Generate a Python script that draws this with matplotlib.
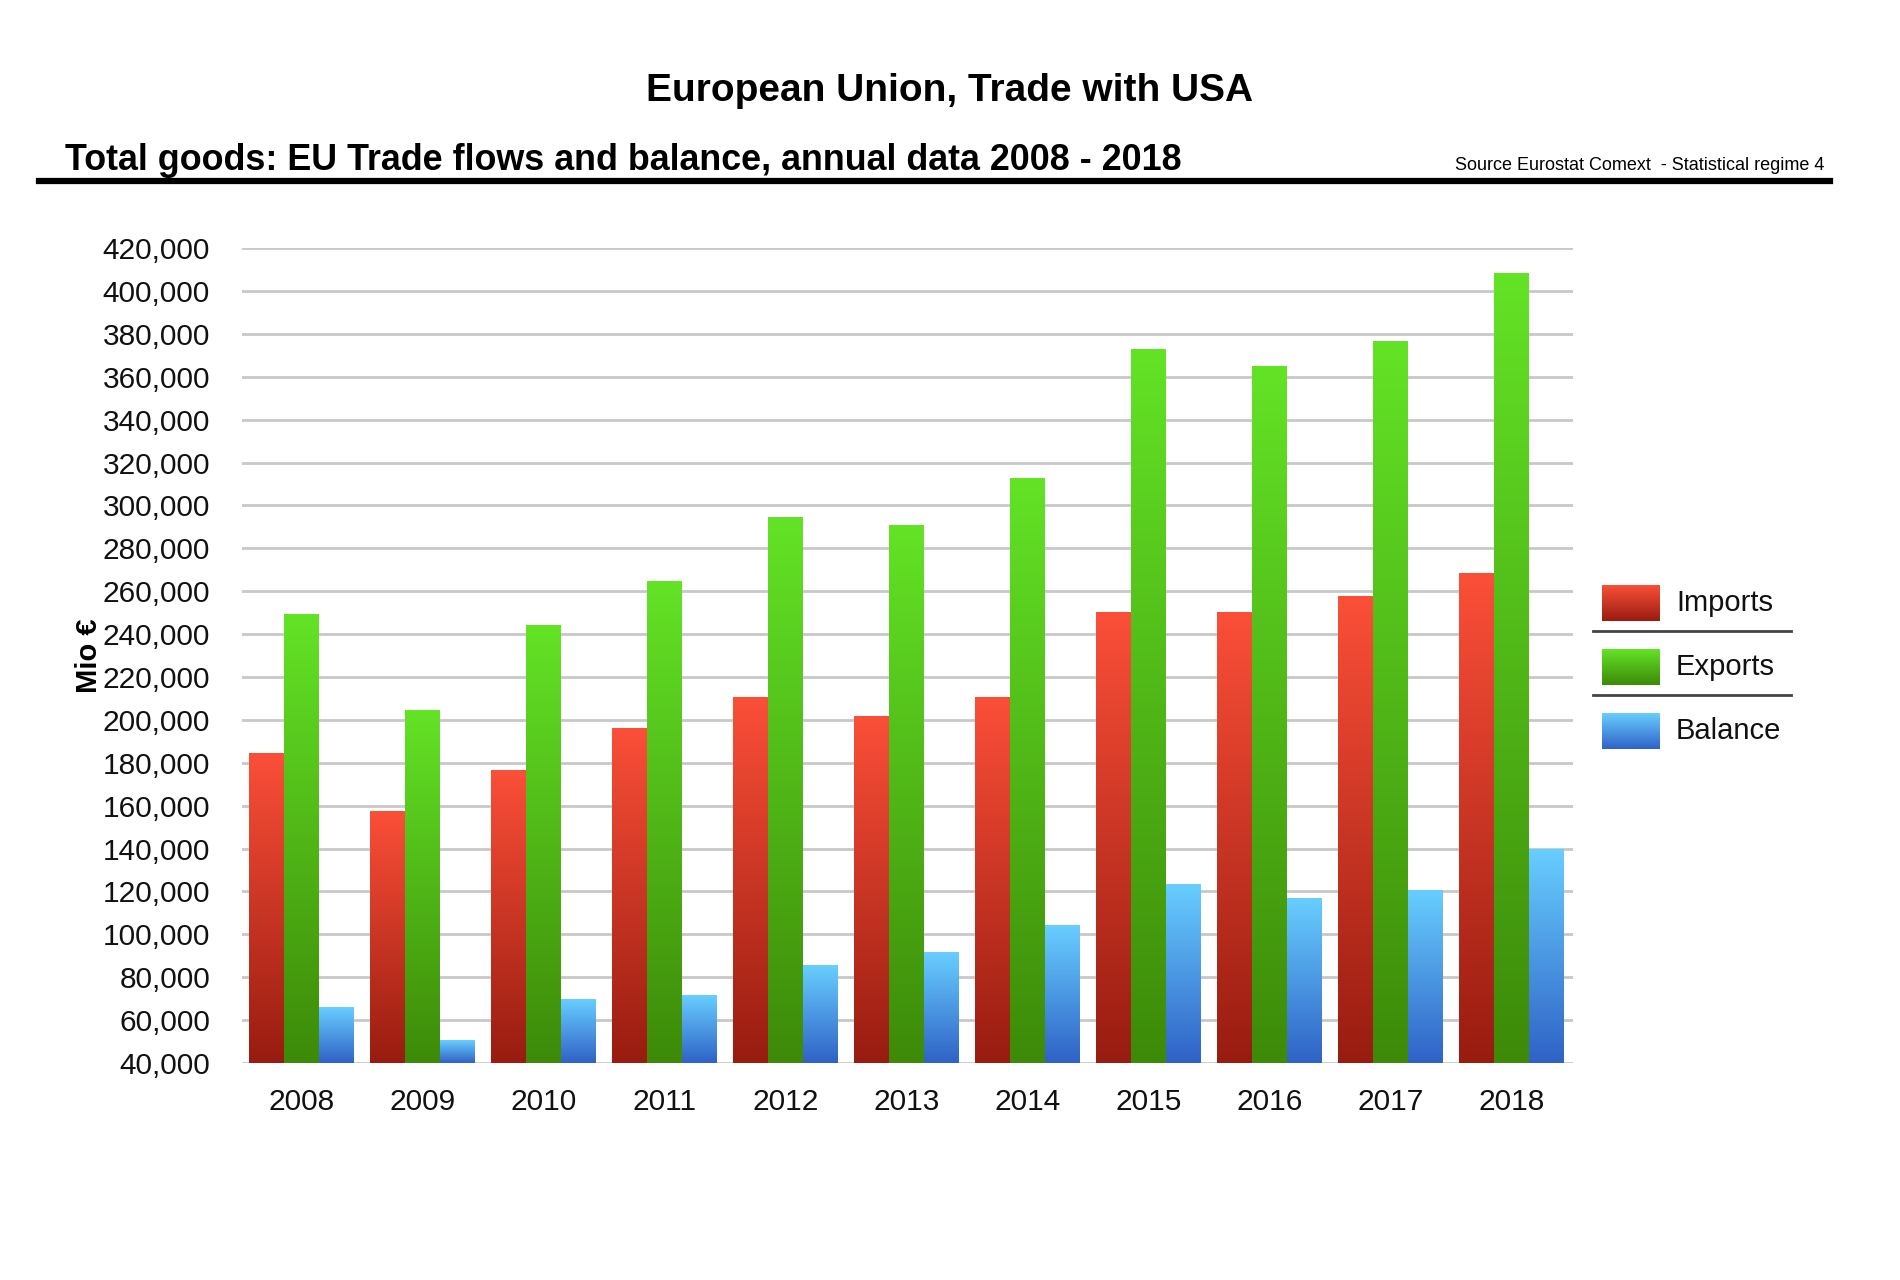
import matplotlib.pyplot as plt
import numpy as np
from matplotlib.colors import LinearSegmentedColormap
from matplotlib.ticker import FuncFormatter, MultipleLocator

years = ['2008', '2009', '2010', '2011', '2012', '2013', '2014', '2015', '2016', '2017', '2018']
imports = [184200, 157100, 176400, 195800, 210500, 201400, 210500, 250000, 250000, 257600, 268200]
exports = [249000, 204200, 243900, 264400, 294500, 290700, 312700, 372700, 364800, 376500, 407900]
balance = [66000, 50500, 69800, 71600, 85300, 91300, 104000, 123200, 116600, 120200, 139700]
series_names = ['Imports', 'Exports', 'Balance']

# bottom colour, top colour
grads = [('#981c10', '#fb4f38'), ('#3d8a08', '#63e326'), ('#2f62c6', '#68ceff')]

plt.rcParams['font.family'] = ['Liberation Sans', 'DejaVu Sans']

fig = plt.figure(figsize=(19, 12.8), dpi=100)
ax = fig.add_axes([0.1274, 0.1695, 0.7005, 0.6367])

ymin, ymax = 40000, 420000
x = np.arange(len(years))
w = 0.287
grad = np.linspace(0, 1, 256).reshape(-1, 1)

for i, vals in enumerate([imports, exports, balance]):
    bars = ax.bar(x + (i - 1) * w, vals, w, color='none', zorder=2)
    cmap = LinearSegmentedColormap.from_list('g%d' % i, grads[i])
    for b in bars:
        x0 = b.get_x()
        x1 = x0 + b.get_width()
        y1 = b.get_height()
        ax.imshow(grad, extent=[x0, x1, ymin, y1], origin='lower', cmap=cmap,
                  aspect='auto', zorder=2, interpolation='bilinear')

ax.set_xlim(-0.49, len(years) - 0.49)
ax.set_ylim(ymin, ymax)
ax.yaxis.set_major_locator(MultipleLocator(20000))
ax.yaxis.set_major_formatter(FuncFormatter(lambda v, p: '{:,.0f}'.format(v)))
ax.set_xticks(x)
ax.set_xticklabels(years)
ax.grid(axis='y', color='#c8c8c8', lw=2, zorder=0)
ax.set_axisbelow(True)
for s in ax.spines.values():
    s.set_visible(False)
ax.tick_params(axis='both', length=0, labelsize=21.5, labelcolor='#111111')
ax.tick_params(axis='y', pad=23)
ax.tick_params(axis='x', pad=18)
ax.set_ylabel('Mio €', fontsize=21, fontweight='bold', labelpad=0)

# titles
fig.text(0.5, 0.929, 'European Union, Trade with USA', ha='center', va='center',
         fontsize=28, fontweight='bold')
fig.text(0.034, 0.875, 'Total goods: EU Trade flows and balance, annual data 2008 - 2018',
         ha='left', va='center', fontsize=25.8, fontweight='bold')
fig.text(0.960, 0.871, 'Source Eurostat Comext  - Statistical regime 4', ha='right',
         va='center', fontsize=13, family=['Liberation Sans Narrow', 'Liberation Sans'])
fig.add_artist(plt.Line2D([0.0205, 0.963], [0.8585, 0.8585], color='black', lw=4.5))

# legend with separators
lx0, lx1 = 1602 / 1900, 1660 / 1900
rows_y = [603, 667, 731]
for i, name in enumerate(series_names):
    yc = 1 - rows_y[i] / 1280
    h = 36 / 1280
    lax = fig.add_axes([lx0, yc - h / 2, lx1 - lx0, h])
    cmap = LinearSegmentedColormap.from_list('l%d' % i, grads[i])
    lax.imshow(grad, origin='lower', cmap=cmap, aspect='auto', extent=[0, 1, 0, 1])
    lax.set_axis_off()
    fig.text(1676 / 1900, yc, name, ha='left', va='center', fontsize=21, color='#111111')
for sy in [631, 695]:
    yy = 1 - sy / 1280
    fig.add_artist(plt.Line2D([1593 / 1900, 1791 / 1900], [yy, yy], color='#444444', lw=2))

fig.savefig('out.png', dpi=100)
